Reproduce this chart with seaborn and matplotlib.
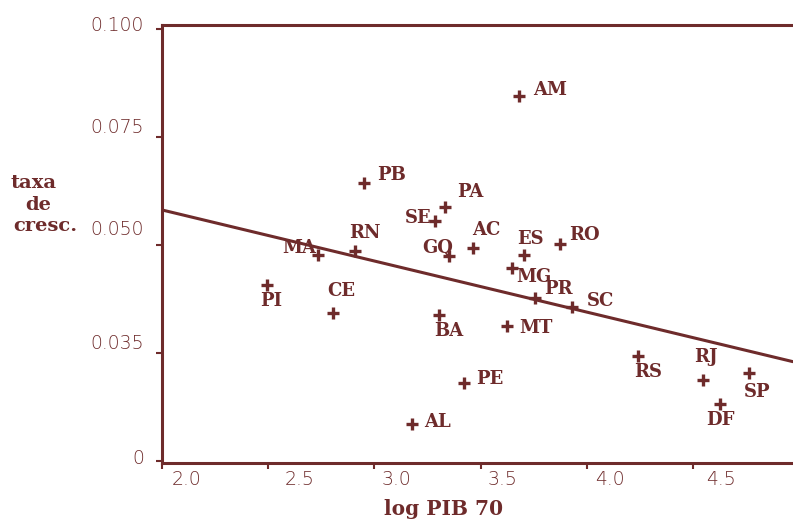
import matplotlib
matplotlib.use("Agg")
import matplotlib.pyplot as plt
import matplotlib.transforms as mtransforms
import seaborn as sns
import pandas as pd

# ---- data ----
states = ["AM", "PB", "PA", "SE", "GQ", "AC", "RN", "MA", "PI", "CE", "BA", "ES",
          "RO", "MG", "PR", "SC", "MT", "PE", "AL", "RS", "RJ", "SP", "DF"]
log_pib = [3.681, 2.952, 3.332, 3.285, 3.353, 3.466, 2.909, 2.733, 2.493, 2.807,
           3.306, 3.706, 3.874, 3.649, 3.756, 3.929, 3.626, 3.423, 3.176, 4.240,
           4.549, 4.764, 4.627]
taxa = [0.0845, 0.0643, 0.0587, 0.0556, 0.0475, 0.0492, 0.0487, 0.0477, 0.0407,
        0.0343, 0.0337, 0.0477, 0.0502, 0.0447, 0.0377, 0.0357, 0.0313, 0.0180,
        0.0086, 0.0243, 0.0188, 0.0203, 0.0132]
fit_x = [2.0, 4.97]
fit_y = [0.0581, 0.0230]
x_ticks = [2.0, 2.5, 3.0, 3.5, 4.0, 4.5]
x_tick_labels = ["2.0", "2.5", "3.0", "3.5", "4.0", "4.5"]
y_ticks = [0.0, 0.025, 0.050, 0.075, 0.100]
y_tick_labels = ["0", "0.035", "0.050", "0.075", "0.100"]
ylabel_lines = ["taxa", "de", "cresc."]

# ---- style ----
MAROON = "#6e2b2b"
# label offsets in pixels (dx, dy downward, horizontal alignment)
label_style = {
    "AM": (14, -6, "left"), "PB": (13, -8, "left"), "PA": (12, -15, "left"),
    "SE": (-3, -3, "right"), "GQ": (4, -8, "right"), "AC": (-1, -18, "left"),
    "RN": (10, -18, "center"), "MA": (-1, -7, "right"), "PI": (4, 16, "center"),
    "CE": (8, -22, "center"), "BA": (9, 16, "center"), "ES": (6, -16, "center"),
    "RO": (9, -9, "left"), "MG": (4, 9, "left"), "PR": (9, -9, "left"),
    "SC": (15, -6, "left"), "MT": (12, 2, "left"), "PE": (12, -4, "left"),
    "AL": (12, -2, "left"), "RS": (10, 16, "center"), "RJ": (3, -23, "center"),
    "SP": (8, 19, "center"), "DF": (0, 16, "center"),
}
xlab_dx = [10, 16, 7, 7, 8, 13]
ylab_dy = [5, 11, 17, 11, 5]
ylabel_pos = [(34, 183), (38, 205), (45, 226)]

sns.set_theme(style="white")
plt.rcParams["font.family"] = ["DejaVu Sans"]

df = pd.DataFrame({"state": states, "log_pib": log_pib, "taxa": taxa})
fit = pd.DataFrame({"x": fit_x, "y": fit_y})

fig = plt.figure(figsize=(7.93, 5.20), dpi=100)
ax = fig.add_axes([162 / 793, 57 / 520, 1 - 162 / 793, (463 - 25) / 520])

sns.lineplot(data=fit, x="x", y="y", ax=ax, color=MAROON, linewidth=2.2, sort=False)
sns.scatterplot(data=df, x="log_pib", y="taxa", ax=ax, marker="+", s=64,
                color=MAROON, linewidth=2.4)

serif_bold = dict(family="DejaVu Serif", weight="bold", color=MAROON)
for s, xv, yv in zip(states, log_pib, taxa):
    dx, dy, ha = label_style[s]
    ax.annotate(s, (xv, yv), xytext=(dx, -dy), textcoords="offset pixels",
                ha=ha, va="center", fontsize=13, **serif_bold)

ax.set_xlim(2.0, 4.971)
ax.set_ylim(-0.00046, 0.1009)
ax.set_xticks(x_ticks, x_tick_labels)
ax.set_yticks(y_ticks, y_tick_labels)
ax.set_xlabel("")
ax.set_ylabel("")

for side in ["left", "top", "bottom"]:
    ax.spines[side].set_color(MAROON)
    ax.spines[side].set_linewidth(2.2)
ax.spines["right"].set_visible(False)

ax.tick_params(axis="both", direction="out", length=4, width=1.5, color=MAROON,
               labelcolor=MAROON, labelsize=13.5, left=True, bottom=True)
ax.tick_params(axis="x", pad=1)
ax.tick_params(axis="y", pad=9)

for lab, dx in zip(ax.get_xticklabels(), xlab_dx):
    lab.set_horizontalalignment("left")
    lab.set_fontweight("light")
    lab.set_transform(lab.get_transform() +
                      mtransforms.ScaledTranslation(dx / 100, 0, fig.dpi_scale_trans))
for lab, dy in zip(ax.get_yticklabels(), ylab_dy):
    lab.set_fontweight("light")
    lab.set_transform(lab.get_transform() +
                      mtransforms.ScaledTranslation(0, dy / 100, fig.dpi_scale_trans))

fig.text(444 / 793, 1 - 509 / 520, "log PIB 70", ha="center", va="center",
         fontsize=14.5, **serif_bold)
for line, (px, py) in zip(ylabel_lines, ylabel_pos):
    fig.text(px / 793, 1 - py / 520, line, ha="center", va="center",
             fontsize=14, **serif_bold)

fig.savefig("out.png", dpi=100)
